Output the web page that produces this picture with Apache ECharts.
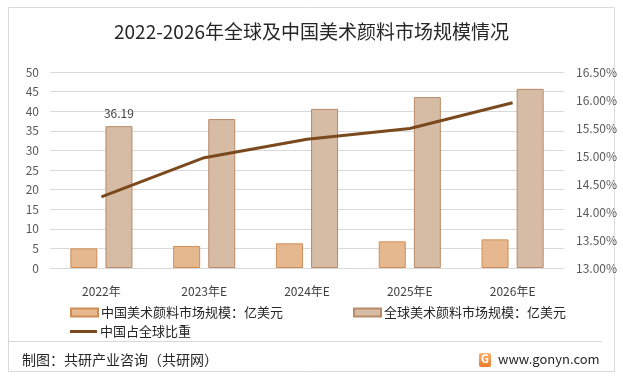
<!DOCTYPE html>
<html>
<head>
<meta charset="utf-8">
<script src="https://cdn.jsdelivr.net/npm/echarts@6/dist/echarts.min.js"></script>
<style>
  html, body { margin: 0; padding: 0; background: #fff; }
  #main { width: 623px; height: 376px; }
</style>
</head>
<body>
<div id="main"></div>
<script>
var years = ['2022年', '2023年E', '2024年E', '2025年E', '2026年E'];
var chinaSize = [5.0, 5.6, 6.3, 6.8, 7.3];
var globalSize = [36.19, 38.0, 40.6, 43.6, 45.7];
var chinaShare = [14.27, 14.97, 15.30, 15.49, 15.95];

var FONT = "'Microsoft YaHei','Noto Sans CJK SC',sans-serif";
var chart = echarts.init(document.getElementById('main'), null, { renderer: 'canvas' });

var option = {
  backgroundColor: '#fff',
  textStyle: { fontFamily: FONT },
  title: {
    text: '2022-2026年全球及中国美术颜料市场规模情况',
    left: 'center',
    top: 17,
    textStyle: { fontSize: 19, fontWeight: 'normal', color: '#262626', fontFamily: FONT }
  },
  grid: { left: 50, right: 59, top: 72, bottom: 108 },
  legend: [
    {
      data: [{ name: '中国美术颜料市场规模：亿美元', icon: 'rect' }],
      left: 65, top: 301,
      itemWidth: 27, itemHeight: 8, itemGap: 8,
      textStyle: { fontSize: 13, color: '#262626', padding: [0, 0, 0, -2] }
    },
    {
      data: [{ name: '全球美术颜料市场规模：亿美元', icon: 'rect' }],
      left: 348, top: 301,
      itemWidth: 27, itemHeight: 8,
      textStyle: { fontSize: 13, color: '#262626', padding: [0, 0, 0, -2] }
    },
    {
      data: [{ name: '中国占全球比重', icon: 'rect' }],
      left: 65, top: 320,
      itemWidth: 27, itemHeight: 3,
      textStyle: { fontSize: 13, color: '#262626', padding: [0, 0, 0, -2] }
    }
  ],
  xAxis: {
    type: 'category',
    data: years,
    axisLine: { lineStyle: { color: '#d9d9d9' } },
    axisTick: { show: false },
    axisLabel: { fontSize: 12, color: '#404040', margin: 17 }
  },
  yAxis: [
    {
      type: 'value', min: 0, max: 50, interval: 5,
      axisLine: { show: false }, axisTick: { show: false },
      axisLabel: { fontSize: 12, color: '#595959', margin: 11 },
      splitLine: { lineStyle: { color: '#d9d9d9' } }
    },
    {
      type: 'value', min: 13, max: 16.5, interval: 0.5,
      axisLine: { show: false }, axisTick: { show: false },
      axisLabel: {
        fontSize: 12, color: '#595959', margin: 12,
        formatter: function (v) { return v.toFixed(2) + '%'; }
      },
      splitLine: { show: false }
    }
  ],
  series: [
    {
      name: '中国美术颜料市场规模：亿美元',
      type: 'bar',
      data: chinaSize,
      barWidth: 27,
      barGap: '30%',
      itemStyle: { color: '#E6B890', borderColor: '#D08C55', borderWidth: 1 }
    },
    {
      name: '全球美术颜料市场规模：亿美元',
      type: 'bar',
      data: globalSize.map(function (v, i) {
        return i === 0 ? { value: v, label: { show: true } } : v;
      }),
      barWidth: 27,
      label: { show: false, position: 'top', distance: 7, fontSize: 12, color: '#404040' },
      itemStyle: { color: '#D6BBA5', borderColor: '#B98B68', borderWidth: 1 }
    },
    {
      name: '中国占全球比重',
      type: 'line',
      yAxisIndex: 1,
      data: chinaShare,
      symbol: 'none',
      lineStyle: { color: '#7A4A1E', width: 3 },
      itemStyle: { color: '#7A4A1E' }
    }
  ],
  graphic: [
    {
      type: 'rect', silent: true, z: -1,
      shape: { x: 8.5, y: 7.5, width: 606, height: 364 },
      style: { fill: 'none', stroke: '#d9d9d9', lineWidth: 1 }
    },
    {
      type: 'line', silent: true,
      shape: { x1: 9, y1: 341.5, x2: 602, y2: 341.5 },
      style: { stroke: '#d9d9d9', lineWidth: 1 }
    },
    {
      type: 'text', left: 22, top: 353,
      style: { text: '制图：共研产业咨询（共研网）', fontSize: 14, fill: '#262626', fontFamily: FONT }
    },
    {
      type: 'rect', silent: true,
      shape: { x: 479, y: 353, width: 12, height: 14, r: 2 },
      style: {
        fill: new echarts.graphic.LinearGradient(0, 0, 0, 1, [
          { offset: 0, color: '#F7B26A' }, { offset: 1, color: '#EE7A2A' }
        ])
      }
    },
    {
      type: 'text', left: 481, top: 353,
      style: { text: 'G', fontSize: 11, fontWeight: 'bold', fill: '#fff', fontFamily: FONT }
    },
    {
      type: 'text', left: 498, top: 353,
      style: { text: 'www.gonyn.com', fontSize: 13, fill: '#262626', fontFamily: FONT }
    }
  ]
};

chart.setOption(option);
</script>
</body>
</html>
